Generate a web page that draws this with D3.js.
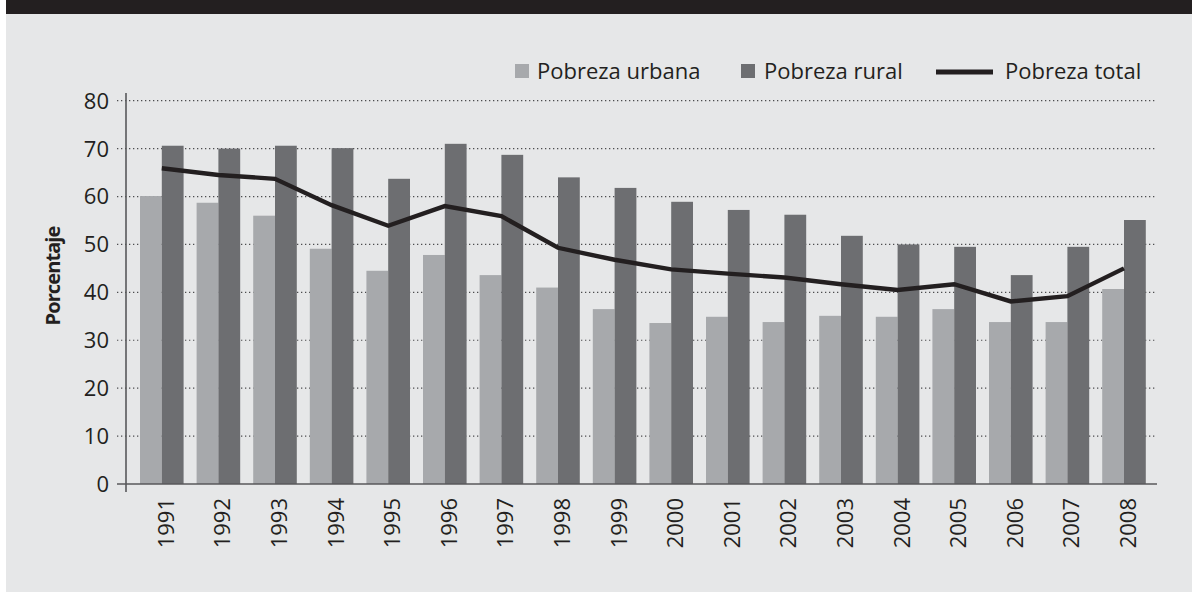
<!DOCTYPE html>
<html>
<head>
<meta charset="utf-8">
<script src="https://cdn.jsdelivr.net/npm/d3@7"></script>
<style>
  body { margin: 0; background: #fff; }
  svg { display: block; font-family: "Open Sans", "Noto Sans", sans-serif; }
</style>
</head>
<body>
<div id="chart"></div>
<script>
// data
const years = ["1991", "1992", "1993", "1994", "1995", "1996", "1997", "1998", "1999",
  "2000", "2001", "2002", "2003", "2004", "2005", "2006", "2007", "2008"];
const urbana = [60.1, 58.7, 56.0, 49.1, 44.5, 47.8, 43.6, 41.0, 36.5,
  33.6, 34.9, 33.8, 35.1, 34.9, 36.5, 33.8, 33.8, 40.7];
const rural = [70.6, 70.0, 70.6, 70.1, 63.7, 71.0, 68.7, 64.0, 61.8,
  58.9, 57.2, 56.2, 51.8, 50.0, 49.5, 43.6, 49.5, 55.1];
const total = [65.9, 64.5, 63.7, 58.2, 53.9, 58.0, 55.9, 49.3, 46.8,
  44.8, 43.9, 43.1, 41.7, 40.5, 41.7, 38.1, 39.2, 45.0];
const yTicks = [0, 10, 20, 30, 40, 50, 60, 70, 80];
const legendLabels = ["Pobreza urbana", "Pobreza rural", "Pobreza total"];

const width = 1192, height = 592;
const colUrb = "#a7a9ac", colRur = "#6d6e71", colLine = "#231f20", colAxis = "#58595b";

const svg = d3.select("#chart").append("svg")
  .attr("width", width)
  .attr("height", height);

// background panel and dark top band
svg.append("rect").attr("x", 6).attr("y", 0).attr("width", width - 6).attr("height", height).attr("fill", "#e6e7e8");
svg.append("rect").attr("x", 6).attr("y", 0).attr("width", width - 6).attr("height", 14).attr("fill", "#231f20");

const x0 = d3.scaleBand().domain(years).range([133.5, 1152.3]).paddingInner(0.23).paddingOuter(0.115);
const x1 = d3.scaleBand().domain(["u", "r"]).range([0, x0.bandwidth()]);
const y = d3.scaleLinear().domain([0, 80]).range([484, 100.7]);

// dotted gridlines
svg.append("g")
  .selectAll("line")
  .data(yTicks.filter(d => d > 0))
  .enter()
  .append("line")
  .attr("x1", 117)
  .attr("x2", 1157)
  .attr("y1", d => y(d))
  .attr("y2", d => y(d))
  .attr("stroke", "#4d4d4f")
  .attr("stroke-width", 1.2)
  .attr("stroke-dasharray", "1.3,2.7");

// bars
const groups = svg.append("g")
  .selectAll("g")
  .data(years)
  .enter()
  .append("g")
  .attr("transform", d => `translate(${x0(d)},0)`);

groups.append("rect")
  .attr("x", x1("u"))
  .attr("width", x1.bandwidth())
  .attr("y", (d, i) => y(urbana[i]))
  .attr("height", (d, i) => y(0) - y(urbana[i]))
  .attr("fill", colUrb);

groups.append("rect")
  .attr("x", x1("r"))
  .attr("width", x1.bandwidth())
  .attr("y", (d, i) => y(rural[i]))
  .attr("height", (d, i) => y(0) - y(rural[i]))
  .attr("fill", colRur);

// axes
svg.append("line").attr("x1", 126).attr("x2", 126).attr("y1", 93).attr("y2", 492)
  .attr("stroke", colAxis).attr("stroke-width", 1.6);
svg.append("line").attr("x1", 117).attr("x2", 1157).attr("y1", y(0)).attr("y2", y(0))
  .attr("stroke", colAxis).attr("stroke-width", 1.6);

// total line
const line = d3.line()
  .x((d, i) => x0(years[i]) + x0.bandwidth() / 2)
  .y(d => y(d));

svg.append("path")
  .datum(total)
  .attr("d", line)
  .attr("fill", "none")
  .attr("stroke", colLine)
  .attr("stroke-width", 4.4)
  .attr("stroke-linejoin", "miter");

// y tick labels
svg.append("g")
  .selectAll("text")
  .data(yTicks)
  .enter()
  .append("text")
  .attr("x", 109)
  .attr("y", d => y(d))
  .attr("dy", "0.36em")
  .attr("text-anchor", "end")
  .attr("font-size", 22)
  .attr("fill", "#231f20")
  .text(d => d);

// x tick labels, rotated
svg.append("g")
  .selectAll("text")
  .data(years)
  .enter()
  .append("text")
  .attr("transform", d => `translate(${x0(d) + x0.bandwidth() / 2 + 4},498) rotate(-90)`)
  .attr("dy", "0.36em")
  .attr("text-anchor", "end")
  .attr("font-size", 22)
  .attr("fill", "#231f20")
  .text(d => d);

// y title
svg.append("text")
  .attr("transform", "translate(53,276) rotate(-90)")
  .attr("dy", "0.36em")
  .attr("text-anchor", "middle")
  .attr("font-size", 20)
  .attr("letter-spacing", -0.9)
  .attr("font-weight", "bold")
  .attr("fill", "#231f20")
  .text("Porcentaje");

// legend
const leg = svg.append("g").attr("font-size", 22).attr("fill", "#231f20");
leg.append("rect").attr("x", 515).attr("y", 64).attr("width", 14).attr("height", 14).attr("fill", colUrb);
leg.append("text").attr("x", 537).attr("y", 71).attr("dy", "0.36em").text(legendLabels[0]);
leg.append("rect").attr("x", 741).attr("y", 64).attr("width", 14).attr("height", 14).attr("fill", colRur);
leg.append("text").attr("x", 764).attr("y", 71).attr("dy", "0.36em").text(legendLabels[1]);
leg.append("line").attr("x1", 936).attr("x2", 993).attr("y1", 72).attr("y2", 72)
  .attr("stroke", colLine).attr("stroke-width", 4.8);
leg.append("text").attr("x", 1005).attr("y", 71).attr("dy", "0.36em").text(legendLabels[2]);
</script>
</body>
</html>
